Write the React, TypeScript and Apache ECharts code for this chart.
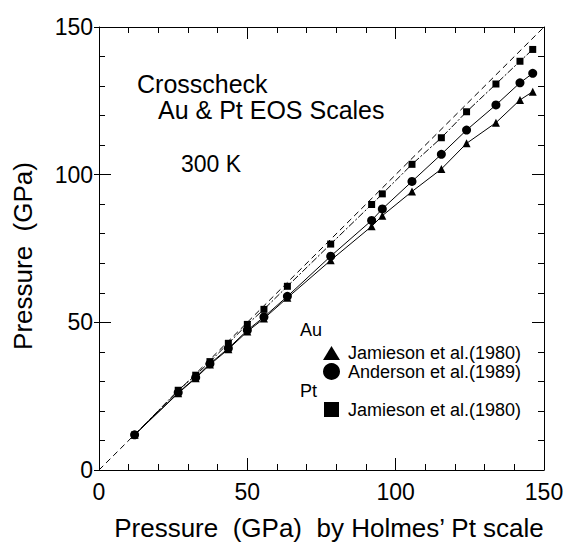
import React, { useEffect, useRef } from "react";
import * as echarts from "echarts";

// Pressure by Holmes' Pt scale (GPa)
const holmesPt = [12.0, 26.7, 32.6, 37.4, 43.6, 50.0, 55.6, 63.5, 78.1, 91.9, 95.5, 105.5, 115.4, 123.9, 133.8, 141.9, 146.2];
// Pt, Jamieson et al. (1980)
const ptJamieson = [11.9, 27.0, 32.1, 36.7, 42.9, 49.3, 54.4, 62.2, 76.5, 89.9, 93.5, 103.5, 112.5, 121.3, 130.7, 138.4, 142.4];
// Au, Anderson et al. (1989)
const auAnderson = [11.9, 26.2, 31.3, 36.0, 41.2, 47.3, 51.8, 58.8, 72.4, 84.5, 88.4, 97.7, 106.9, 115.1, 123.6, 131.1, 134.3];
// Au, Jamieson et al. (1980)
const auJamieson = [11.9, 26.0, 31.1, 35.7, 40.9, 46.9, 51.3, 58.3, 71.0, 82.5, 86.1, 94.3, 101.9, 110.6, 117.6, 125.3, 128.1];
// 1:1 reference line
const identityLine = [0, 150];

const FONT = '"Liberation Sans", Arial, Helvetica, sans-serif';

const pairs = (xs: number[], ys: number[]) => xs.map((x, i) => [x, ys[i]]);

export default function App() {
  const ref = useRef<HTMLDivElement>(null);
  useEffect(() => {
    if (!ref.current) return;
    const chart = echarts.init(ref.current, null, { renderer: "svg" });
    const black = "#000";
    const baseAxis = {
      type: "value" as const,
      min: 0,
      max: 150,
      interval: 50,
      splitLine: { show: false },
      axisLine: { show: true, onZero: false, lineStyle: { color: black, width: 1 } },
      axisTick: { show: true, inside: true, length: 12, lineStyle: { color: black, width: 1 } },
      minorTick: { show: true, splitNumber: 5, length: 6, lineStyle: { color: black, width: 1 } },
    };
    const hiddenLabel = { show: false };
    const txt = (text: string, x: number, y: number, size: number) => ({
      type: "text",
      x,
      y,
      style: {
        text,
        font: `${size}px ${FONT}`,
        fill: black,
        align: "left",
        verticalAlign: "middle",
        lineHeight: size,
      },
    });
    const option: any = {
      animation: false,
      backgroundColor: "#fff",
      grid: { left: 99, top: 27, width: 445, height: 445, containLabel: false },
      xAxis: [
        {
          ...baseAxis,
          position: "bottom",
          axisLabel: { show: true, fontSize: 23, color: black, fontFamily: FONT, margin: 10 },
          name: "Pressure  (GPa)  by Holmes\u2019 Pt scale",
          nameLocation: "middle",
          nameGap: 45,
          nameTextStyle: { fontSize: 26, color: black, fontFamily: FONT, padding: [0, 0, 0, 15] },
        },
        { ...baseAxis, position: "top", axisLabel: hiddenLabel },
      ],
      yAxis: [
        {
          ...baseAxis,
          position: "left",
          axisLabel: { show: true, fontSize: 23, color: black, fontFamily: FONT, margin: 6 },
          name: "Pressure  (GPa)",
          nameLocation: "middle",
          nameGap: 63,
          nameTextStyle: { fontSize: 26, color: black, fontFamily: FONT, padding: [0, 15, 0, 0] },
        },
        { ...baseAxis, position: "right", axisLabel: hiddenLabel },
        {
          ...baseAxis,
          position: "left",
          axisLine: { show: false },
          axisTick: { show: true, inside: false, length: 5, lineStyle: { color: black, width: 1 } },
          minorTick: { show: false },
          axisLabel: hiddenLabel,
        },
      ],
      series: [
        {
          type: "line",
          data: pairs(identityLine, identityLine),
          symbol: "none",
          silent: true,
          lineStyle: { color: black, width: 1, type: [6, 4] },
          z: 1,
        },
        {
          name: "Pt Jamieson et al.(1980)",
          type: "line",
          data: pairs(holmesPt, ptJamieson),
          symbol: "rect",
          symbolSize: 7,
          itemStyle: { color: black },
          lineStyle: { color: black, width: 1, type: [7, 2, 2, 2] },
          z: 3,
        },
        {
          name: "Au Anderson et al.(1989)",
          type: "line",
          data: pairs(holmesPt, auAnderson),
          symbol: "circle",
          symbolSize: 9,
          itemStyle: { color: black },
          lineStyle: { color: black, width: 1 },
          z: 4,
        },
        {
          name: "Au Jamieson et al.(1980)",
          type: "line",
          data: pairs(holmesPt, auJamieson),
          symbol: "triangle",
          symbolSize: 8,
          itemStyle: { color: black },
          lineStyle: { color: black, width: 1 },
          z: 2,
        },
      ],
      graphic: [
        txt("Crosscheck", 137, 84, 25),
        txt("Au & Pt EOS Scales", 158, 110, 25),
        txt("300 K", 181, 164, 23),
        txt("Au", 300, 330, 18),
        { type: "polygon", shape: { points: [[323, 360], [340, 360], [331.5, 346]] }, style: { fill: black } },
        txt("Jamieson et al.(1980)", 348, 353, 18),
        { type: "circle", shape: { cx: 331.5, cy: 371.5, r: 8.5 }, style: { fill: black } },
        txt("Anderson et al.(1989)", 348, 372, 18),
        txt("Pt", 300, 391, 18),
        { type: "rect", shape: { x: 324, y: 402, width: 15, height: 15 }, style: { fill: black } },
        txt("Jamieson et al.(1980)", 348, 409.5, 18),
      ],
    };
    chart.setOption(option);
    return () => chart.dispose();
  }, []);
  return (
    <div
      ref={ref}
      style={{ position: "absolute", left: 0, top: 0, width: 568, height: 546, background: "#fff" }}
    />
  );
}
